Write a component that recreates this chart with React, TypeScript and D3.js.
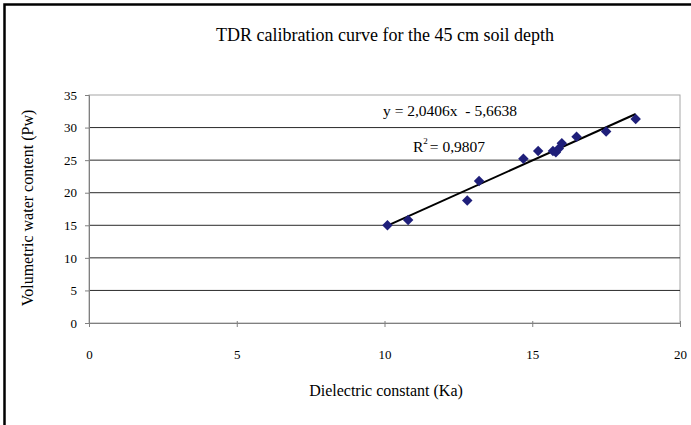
import React, { useRef, useEffect } from 'react';
import * as d3 from 'd3';

// Measured points: dielectric constant (Ka) vs volumetric water content (Pw)
const dielectric = [10.1, 10.8, 12.8, 13.2, 14.7, 15.2, 15.7, 15.8, 15.9, 16.0, 16.5, 17.5, 18.5];
const waterContent = [15.0, 15.8, 18.8, 21.8, 25.2, 26.4, 26.4, 26.2, 26.8, 27.6, 28.6, 29.4, 31.3];

// Linear trendline shown on the chart
const slope = 2.0406;
const intercept = -5.6638;
const rSquared = '0,9807';
const equationText = 'y = 2,0406x  - 5,6638';

const xTicks = [0, 5, 10, 15, 20];
const yTicks = [0, 5, 10, 15, 20, 25, 30, 35];

const W = 691;
const H = 425;
const FONT = 'Liberation Serif, Times New Roman, DejaVu Serif, serif';

const App: React.FC = () => {
    const ref = useRef<SVGSVGElement | null>(null);

    useEffect(() => {
        if (!ref.current) return;
        const svg = d3.select(ref.current);
        svg.selectAll('*').remove();

        const left = 89, right = 680, top = 95, bottom = 323;
        const x = d3.scaleLinear().domain([0, 20]).range([left, right]);
        const y = d3.scaleLinear().domain([0, 35]).range([bottom, top]);

        svg.append('rect').attr('width', W).attr('height', H).attr('fill', '#fff');

        // outer frame
        svg.append('rect')
            .attr('x', 4.5).attr('y', 4.5)
            .attr('width', W + 20).attr('height', H + 20)
            .attr('fill', 'none')
            .attr('stroke', '#000')
            .attr('stroke-width', 2.5);

        // plot area border
        svg.append('rect')
            .attr('x', left).attr('y', top)
            .attr('width', right - left).attr('height', bottom - top)
            .attr('fill', 'none')
            .attr('stroke', '#a6a6a6')
            .attr('stroke-width', 1);

        // horizontal gridlines
        svg.append('g')
            .selectAll('line')
            .data(yTicks.filter(t => t > 0 && t < 35))
            .enter()
            .append('line')
            .attr('x1', left).attr('x2', right)
            .attr('y1', d => y(d)).attr('y2', d => y(d))
            .attr('stroke', '#2a2a2a')
            .attr('stroke-width', 1);

        // y axis
        const yAxis = svg.append('g')
            .attr('transform', `translate(${left},0)`)
            .call(d3.axisLeft(y).tickValues(yTicks).tickSize(4).tickPadding(8).tickFormat(d3.format('d')));
        yAxis.attr('font-family', FONT).attr('font-size', 13);
        yAxis.select('.domain').attr('stroke', '#808080');
        yAxis.selectAll('.tick line').attr('stroke', '#808080');
        yAxis.selectAll('text').attr('fill', '#000');

        // x axis
        const xAxis = svg.append('g')
            .attr('transform', `translate(0,${bottom})`)
            .call(d3.axisBottom(x).tickValues(xTicks).tickSizeInner(4).tickSizeOuter(0).tickPadding(23).tickFormat(d3.format('d')));
        xAxis.attr('font-family', FONT).attr('font-size', 13);
        xAxis.select('.domain').attr('stroke', '#808080');
        xAxis.selectAll('.tick line').attr('stroke', '#808080').attr('y1', -2);
        xAxis.selectAll('text').attr('fill', '#000');

        // trendline
        const xMin = d3.min(dielectric)!;
        const xMax = d3.max(dielectric)!;
        svg.append('line')
            .attr('x1', x(xMin)).attr('y1', y(slope * xMin + intercept))
            .attr('x2', x(xMax)).attr('y2', y(slope * xMax + intercept))
            .attr('stroke', '#000')
            .attr('stroke-width', 2);

        // diamond markers
        const diamond = d3.symbol().type(d3.symbolDiamond2).size(70);
        svg.append('g')
            .selectAll('path')
            .data(dielectric.map((d, i) => [d, waterContent[i]]))
            .enter()
            .append('path')
            .attr('d', diamond as any)
            .attr('transform', d => `translate(${x(d[0])},${y(d[1])})`)
            .attr('fill', '#1f1f7a');

        const labels = svg.append('g').attr('font-family', FONT).attr('fill', '#000');

        // trendline labels
        labels.append('text')
            .attr('x', 383).attr('y', 116)
            .attr('font-size', 15.5)
            .style('white-space', 'pre')
            .text(equationText);

        const r2 = labels.append('text')
            .attr('x', 413).attr('y', 152)
            .attr('font-size', 15.5);
        r2.append('tspan').text('R');
        r2.append('tspan').attr('dy', -8).attr('font-size', 9).text('2');
        r2.append('tspan').attr('dy', 8).attr('dx', 2).text('= ' + rSquared);

        // title
        labels.append('text')
            .attr('x', 385).attr('y', 41)
            .attr('text-anchor', 'middle')
            .attr('font-size', 18)
            .text('TDR calibration curve for the 45 cm soil depth');

        // axis titles
        labels.append('text')
            .attr('x', 386).attr('y', 396)
            .attr('text-anchor', 'middle')
            .attr('font-size', 16)
            .text('Dielectric constant (Ka)');

        labels.append('text')
            .attr('transform', `translate(33,${(top + bottom) / 2 - 1}) rotate(-90)`)
            .attr('text-anchor', 'middle')
            .attr('font-size', 16)
            .text('Volumetric water content (Pw)');
    }, []);

    return (
        <svg
            ref={ref}
            width={W}
            height={H}
            style={{ position: 'absolute', left: 0, top: 0, display: 'block' }}
        />
    );
};

export default App;
